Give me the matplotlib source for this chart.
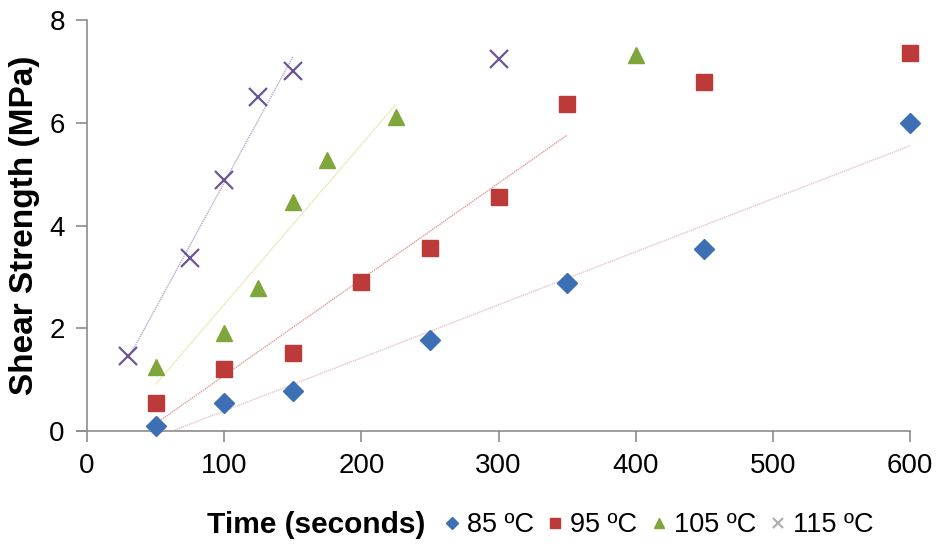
import numpy as np
import matplotlib.pyplot as plt

plt.rcParams['font.family'] = ['Liberation Sans', 'DejaVu Sans']

# time (s) and shear strength (MPa) for each bonding temperature
t_85 = [50, 100, 150, 250, 350, 450, 600]
s_85 = [0.1, 0.55, 0.78, 1.78, 2.88, 3.55, 6.0]

t_95 = [50, 100, 150, 200, 250, 300, 350, 450, 600]
s_95 = [0.55, 1.2, 1.52, 2.9, 3.57, 4.55, 6.37, 6.8, 7.35]

t_105 = [50, 100, 125, 150, 175, 225, 400]
s_105 = [1.25, 1.9, 2.78, 4.45, 5.28, 6.12, 7.32]

t_115 = [30, 75, 100, 125, 150, 300]
s_115 = [1.45, 3.37, 4.88, 6.5, 7.0, 7.25]

labels = ['85 ºC', '95 ºC', '105 ºC', '115 ºC']
# number of leading points used for each linear trend line
n_fit = [7, 7, 6, 5]

series = [(t_85, s_85), (t_95, s_95), (t_105, s_105), (t_115, s_115)]
markers = ['D', 's', '^', 'x']
sizes = [10, 12, 12, 13]
colors = ['#3C6FB4', '#BC3B38', '#7FA63A', '#6B5596']
trend_colors = ['#E4C4C8', '#E39A9A', '#E8E0A0', '#B8A8CC']

fig = plt.figure(figsize=(9.4, 5.5), dpi=100)
ax = fig.add_axes([0.0926, 0.2164, 0.8755, 0.7472])

for (t, s), m, ms, c, tc, n, lab in zip(series, markers, sizes, colors, trend_colors, n_fit, labels):
    t = np.array(t, dtype=float)
    s = np.array(s, dtype=float)
    k, b = np.polyfit(t[:n], s[:n], 1)
    xs = np.linspace(t[0], t[n - 1], 200)
    ys = k * xs + b
    ok = ys >= 0
    ax.plot(xs[ok], ys[ok], color=tc, lw=1.0, ls=(0, (1, 0.6)), zorder=1)
    if m == 'x':
        ax.plot(t, s, ls='none', marker=m, ms=ms, mew=1.6, color=c, label=lab,
                zorder=3, clip_on=False)
    else:
        ax.plot(t, s, ls='none', marker=m, ms=ms, mfc=c, mec=c, label=lab,
                zorder=3, clip_on=False)

ax.set_xlim(0, 600)
ax.set_ylim(0, 8)
ax.set_xticks(range(0, 601, 100))
ax.set_yticks(range(0, 9, 2))
for side in ['top', 'right']:
    ax.spines[side].set_visible(False)
for side in ['left', 'bottom']:
    ax.spines[side].set_color('#8C8C8C')
    ax.spines[side].set_linewidth(1.2)
ax.tick_params(direction='out', length=8, width=1.2, color='#8C8C8C',
               labelsize=20, pad=8)
ax.spines['bottom'].set_bounds(-7, 600)

ax.set_ylabel('Shear Strength (MPa)', fontsize=24, fontweight='bold', labelpad=7)

fig.text(0.22, 0.045, 'Time (seconds)', fontsize=21.5, fontweight='bold',
         ha='left', va='center')
leg = fig.legend(loc='center left', bbox_to_anchor=(0.462, 0.045), ncol=4,
                 frameon=False, fontsize=19.5, handlelength=0.5, handletextpad=0.3,
                 columnspacing=0.55, markerscale=0.6, borderaxespad=0)
# the cross in the legend is drawn pale grey in the original
leg.legend_handles[3].set_color('#B0B0B0')

fig.savefig('out.png', dpi=100)
